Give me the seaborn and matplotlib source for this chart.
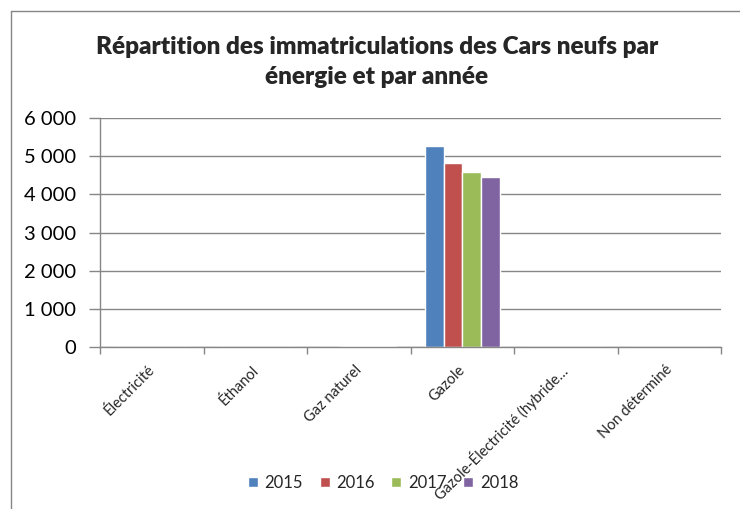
import numpy as np
import pandas as pd
import matplotlib
matplotlib.use("Agg")
import matplotlib.pyplot as plt
import matplotlib.transforms as mtransforms
from matplotlib.ticker import FuncFormatter
from matplotlib.lines import Line2D
import seaborn as sns

# data
energies = ["Électricité", "Éthanol", "Gaz naturel", "Gazole",
            "Gazole-Électricité (hybride…", "Non déterminé"]
years = ["2015", "2016", "2017", "2018"]
v2015 = [0, 0, 4, 5255, 1, 0]
v2016 = [1, 0, 25, 4820, 1, 0]
v2017 = [2, 0, 26, 4595, 2, 0]
v2018 = [3, 0, 34, 4465, 2, 0]

colors = ["#4F81BD", "#C0504D", "#9BBB59", "#8064A2"]

# long form table for seaborn
df = pd.DataFrame({
    "energie": energies * 4,
    "annee": [y for y in years for _ in energies],
    "n": v2015 + v2016 + v2017 + v2018,
})

sns.set_style("white")
plt.rcParams["font.family"] = ["Lato", "DejaVu Sans"]

fig = plt.figure(figsize=(7.4, 5.09), dpi=100)
ax = fig.add_axes([100 / 740, 161.7 / 509, 621 / 740, 229.3 / 509])

sns.barplot(data=df, x="energie", y="n", hue="annee", order=energies,
            hue_order=years, palette=colors, width=0.72, gap=0,
            saturation=1, ax=ax, legend=True)

ax.set_ylim(0, 6000)
ax.set_xlim(-0.5, len(energies) - 0.5)
ax.set_yticks(range(0, 6001, 1000))
ax.yaxis.set_major_formatter(FuncFormatter(lambda v, p: f"{int(v):,}".replace(",", " ")))
ax.yaxis.grid(True, color="#868686", lw=1)
ax.set_axisbelow(True)
ax.set_xlabel("")
ax.set_ylabel("")

# category separators as in excel
ax.set_xticks(np.arange(-0.5, len(energies)), minor=True)
ax.tick_params(axis="x", which="minor", length=5, color="#868686", width=1, bottom=True)
ax.tick_params(axis="x", which="major", length=0, pad=11)
ax.tick_params(axis="y", length=8, color="#868686", width=1, left=True, pad=9,
               labelsize=14.5, labelcolor="#000000")
ax.set_xticks(range(len(energies)))
ax.set_xticklabels(energies, rotation=45, ha="right", va="top", fontsize=10.5)
offset = mtransforms.ScaledTranslation(6 / 100, 0, fig.dpi_scale_trans)
for lab in ax.get_xticklabels():
    lab.set_transform(lab.get_transform() + offset)

for side in ["top", "right"]:
    ax.spines[side].set_visible(False)
for side in ["left", "bottom"]:
    ax.spines[side].set_color("#868686")
    ax.spines[side].set_linewidth(1)

ax.legend(loc="center", bbox_to_anchor=(383 / 740, 1 - 483 / 509),
          bbox_transform=fig.transFigure, ncol=4, frameon=False, fontsize=12,
          handlelength=0.6, handleheight=0.6, handletextpad=0.4, columnspacing=1.0)

fig.text(377 / 740, 1 - 62 / 509,
         "Répartition des immatriculations des Cars neufs par\nénergie et par année",
         ha="center", va="center", fontsize=17.5, fontweight="heavy", linespacing=1.5)

# outer chart frame (only left and top edges inside the image)
fig.add_artist(Line2D([11 / 740, 11 / 740], [0, 1 - 11 / 509], transform=fig.transFigure,
                      color="#868686", lw=1))
fig.add_artist(Line2D([11 / 740, 1], [1 - 11 / 509, 1 - 11 / 509], transform=fig.transFigure,
                      color="#868686", lw=1))

fig.savefig("out.png", dpi=100)
